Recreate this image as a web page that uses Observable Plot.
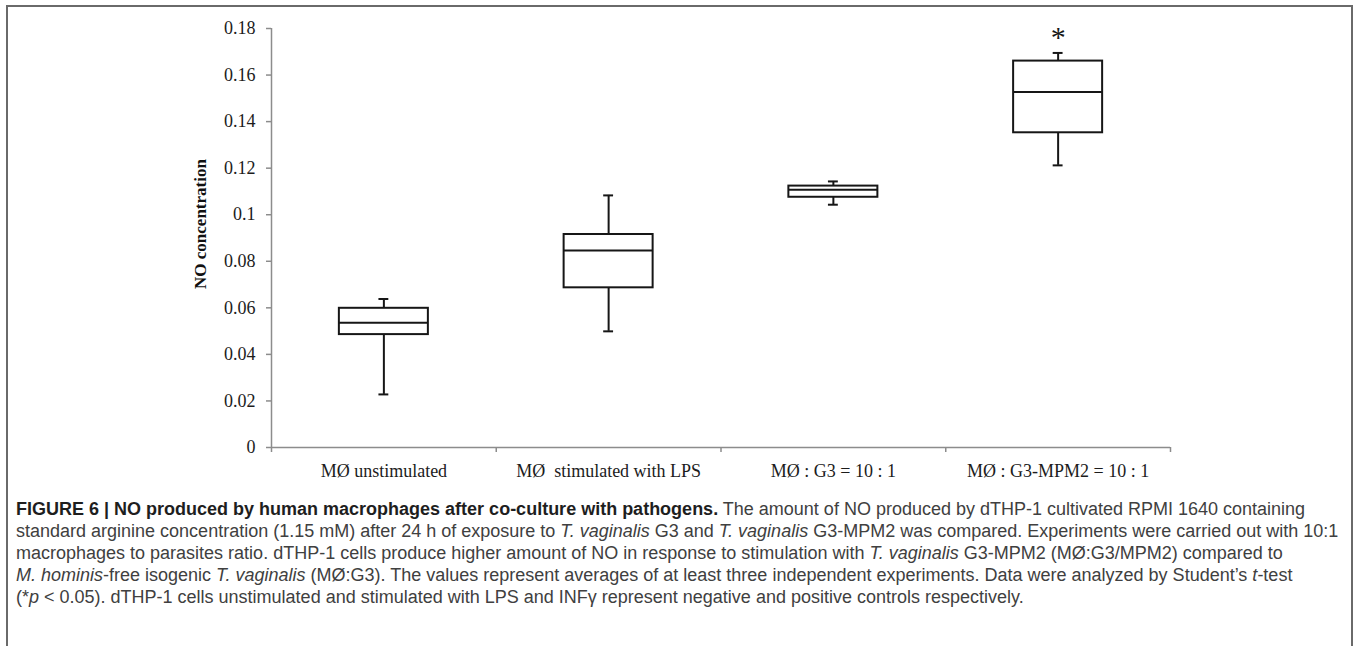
<!DOCTYPE html>
<html>
<head>
<meta charset="utf-8">
<script src="https://cdn.jsdelivr.net/npm/d3@7"></script>
<script src="https://cdn.jsdelivr.net/npm/@observablehq/plot@0.6"></script>
<style>
  html, body { margin: 0; padding: 0; background: #fff; width: 1358px; height: 646px; overflow: hidden; }
  #wrap { position: relative; width: 1358px; height: 646px; }
  #frame { position: absolute; left: 6px; top: 5px; width: 1347px; height: 700px; border: 2px solid #6a6a6a; box-sizing: border-box; }
  #chart { position: absolute; left: 0; top: 0; }
  #caption { position: absolute; left: 16px; top: 498px; font-family: "Liberation Sans", Arial, sans-serif; font-size: 18px; line-height: 22px; color: #404040; white-space: nowrap; }
  #caption b { color: #1e1e1e; }
</style>
</head>
<body>
<div id="wrap">
  <div id="frame"></div>
  <div id="chart"></div>
  <div id="caption">
    <div><b>FIGURE 6 | NO produced by human macrophages after co-culture with pathogens.</b> The amount of NO produced by dTHP-1 cultivated RPMI 1640 containing</div>
    <div>standard arginine concentration (1.15 mM) after 24 h of exposure to <i>T. vaginalis</i> G3 and <i>T. vaginalis</i> G3-MPM2 was compared. Experiments were carried out with 10:1</div>
    <div>macrophages to parasites ratio. dTHP-1 cells produce higher amount of NO in response to stimulation with <i>T. vaginalis</i> G3-MPM2 (MØ:G3/MPM2) compared to</div>
    <div><i>M. hominis</i>-free isogenic <i>T. vaginalis</i> (MØ:G3). The values represent averages of at least three independent experiments. Data were analyzed by Student’s <i>t</i>-test</div>
    <div>(*<i>p</i> &lt; 0.05). dTHP-1 cells unstimulated and stimulated with LPS and INFγ represent negative and positive controls respectively.</div>
  </div>
</div>
<script>
// ---- data ----
const categories = ["MØ unstimulated", "MØ\u00a0 stimulated with LPS", "MØ : G3 = 10 : 1", "MØ : G3-MPM2 = 10 : 1"];
const whiskerLow  = [0.0228, 0.0499, 0.1043, 0.1212];
const q1          = [0.0485, 0.0686, 0.1075, 0.1352];
const median      = [0.0536, 0.0846, 0.1107, 0.1527];
const q3          = [0.0598, 0.0915, 0.1123, 0.1660];
const whiskerHigh = [0.0638, 0.1083, 0.1143, 0.1695];
const significance = ["", "", "", "*"];
const yTicks = [0, 0.02, 0.04, 0.06, 0.08, 0.1, 0.12, 0.14, 0.16, 0.18];
const yLabel = "NO concentration";

const rows = categories.map((c, i) => ({
  c, i, pos: i + 0.5,
  lo: whiskerLow[i], q1: q1[i], med: median[i], q3: q3[i], hi: whiskerHigh[i], sig: significance[i]
}));
const boxHalf = 0.198;   // half box width in category units
const capHalf = 0.022;   // half whisker-cap width
const axisGray = "#8c8c8c";
const ink = "#161616";

const chart = Plot.plot({
  width: 1358,
  height: 490,
  marginLeft: 271,
  marginRight: 188,
  marginTop: 28,
  marginBottom: 43,
  style: { fontFamily: "'Liberation Serif', 'Times New Roman', serif", fontSize: "18px", background: "transparent", color: "#222" },
  x: { type: "linear", domain: [0, categories.length] },
  y: { domain: [0, 0.18] },
  marks: [
    Plot.axisY({ ticks: yTicks, tickFormat: d => String(+d.toFixed(2)), tickSize: 5, tickPadding: 11, stroke: axisGray, strokeWidth: 1.5, fill: "#1c1c1c", fontSize: 18, label: null }),
    Plot.axisX({ ticks: d3.range(categories.length + 1), tickFormat: () => "", tickSize: 5, stroke: axisGray, strokeWidth: 1.5, label: null }),
    Plot.axisX({ ticks: rows.map(d => d.pos), tickFormat: d => categories[Math.floor(d)], tickSize: 0, tickPadding: 17, fill: "#1c1c1c", fontSize: 18, label: null }),
    Plot.ruleY([0], { stroke: axisGray, strokeWidth: 1.5 }),
    Plot.ruleX([0], { stroke: axisGray, strokeWidth: 1.5 }),
    // whiskers
    Plot.ruleX(rows, { x: "pos", y1: "lo", y2: "hi", stroke: ink, strokeWidth: 2 }),
    Plot.ruleY(rows, { y: "lo", x1: d => d.pos - capHalf, x2: d => d.pos + capHalf, stroke: ink, strokeWidth: 2 }),
    Plot.ruleY(rows, { y: "hi", x1: d => d.pos - capHalf, x2: d => d.pos + capHalf, stroke: ink, strokeWidth: 2 }),
    // boxes
    Plot.rect(rows, { x1: d => d.pos - boxHalf, x2: d => d.pos + boxHalf, y1: "q1", y2: "q3", fill: "white", stroke: ink, strokeWidth: 2 }),
    Plot.ruleY(rows, { y: "med", x1: d => d.pos - boxHalf, x2: d => d.pos + boxHalf, stroke: ink, strokeWidth: 2 }),
    // significance
    Plot.text(rows, { x: "pos", y: "hi", text: "sig", dy: -16, fontSize: 30, fill: ink }),
    // y title
    Plot.text([yLabel], { frameAnchor: "left", textAnchor: "middle", rotate: -90, dx: -71, dy: -14, fontWeight: "bold", fontSize: 17, fill: "#111" })
  ]
});
document.getElementById("chart").appendChild(chart);
</script>
</body>
</html>
